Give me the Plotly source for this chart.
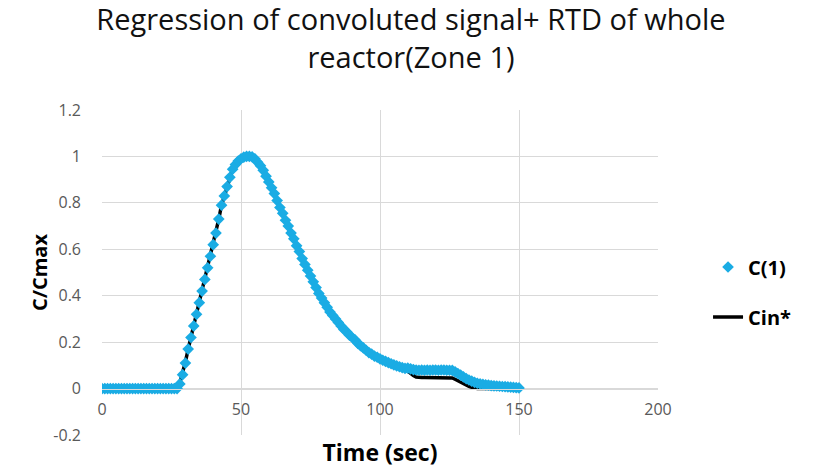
import plotly.graph_objects as go

# Time (sec), one sample per second
time_s = list(range(0, 151))

# C(1): regression signal (C/Cmax)
c1 = [
    0, 0, 0, 0, 0, 0, 0, 0, 0, 0,            # 0-9
    0, 0, 0, 0, 0, 0, 0, 0, 0, 0,            # 10-19
    0, 0, 0, 0, 0, 0, 0, 0.0, 0.02, 0.06,    # 20-29
    0.11, 0.17, 0.22, 0.27, 0.32, 0.37, 0.42, 0.47, 0.52, 0.57,  # 30-39
    0.62, 0.67, 0.73, 0.79, 0.83, 0.87, 0.91, 0.945, 0.965, 0.98,  # 40-49
    0.99, 0.997, 1.0, 1.0, 0.998, 0.99, 0.975, 0.96, 0.94, 0.915,  # 50-59
    0.89, 0.865, 0.84, 0.81, 0.78, 0.755, 0.725, 0.70, 0.67, 0.645,  # 60-69
    0.615, 0.59, 0.56, 0.535, 0.51, 0.485, 0.46, 0.435, 0.41, 0.39,  # 70-79
    0.37, 0.35, 0.33, 0.315, 0.30, 0.285, 0.27, 0.255, 0.245, 0.23,  # 80-89
    0.22, 0.21, 0.195, 0.185, 0.175, 0.165, 0.155, 0.148, 0.14, 0.135,  # 90-99
    0.128, 0.122, 0.117, 0.112, 0.107, 0.102, 0.098, 0.094, 0.09, 0.087,  # 100-109
    0.088, 0.085, 0.082, 0.08, 0.079, 0.08, 0.079, 0.08, 0.079, 0.08,  # 110-119
    0.08, 0.079, 0.08, 0.08, 0.079, 0.079, 0.078, 0.072, 0.065, 0.058,  # 120-129
    0.05, 0.043, 0.037, 0.032, 0.027, 0.023, 0.02, 0.018, 0.016, 0.015,  # 130-139
    0.013, 0.012, 0.011, 0.01, 0.009, 0.008, 0.007, 0.006, 0.005, 0.004,  # 140-149
    0.003,                                                      # 150
]

# Cin*: convoluted input signal (C/Cmax)
cin = [
    0, 0, 0, 0, 0, 0, 0, 0, 0, 0,
    0, 0, 0, 0, 0, 0, 0, 0, 0, 0,
    0, 0, 0, 0, 0, 0, 0, 0.0, 0.025, 0.065,
    0.115, 0.17, 0.22, 0.27, 0.32, 0.37, 0.42, 0.47, 0.52, 0.57,
    0.62, 0.67, 0.73, 0.79, 0.83, 0.87, 0.91, 0.945, 0.965, 0.98,
    0.99, 0.997, 1.0, 1.0, 0.998, 0.99, 0.975, 0.96, 0.94, 0.915,
    0.89, 0.865, 0.84, 0.81, 0.78, 0.755, 0.725, 0.70, 0.67, 0.645,
    0.615, 0.59, 0.56, 0.535, 0.51, 0.485, 0.46, 0.435, 0.41, 0.39,
    0.37, 0.35, 0.33, 0.315, 0.30, 0.285, 0.27, 0.255, 0.245, 0.23,
    0.22, 0.21, 0.195, 0.185, 0.175, 0.165, 0.155, 0.148, 0.14, 0.135,
    0.128, 0.122, 0.117, 0.112, 0.107, 0.102, 0.097, 0.092, 0.087, 0.081,
    0.075, 0.065, 0.056, 0.05, 0.048, 0.048, 0.048, 0.048, 0.048, 0.048,
    0.048, 0.048, 0.048, 0.048, 0.048, 0.047, 0.046, 0.04, 0.033, 0.027,
    0.02, 0.014, 0.009, 0.005, 0.002, 0.0, 0.0, 0.0, 0.0, 0.0,
    0.0, 0.0, 0.0, 0.0, 0.0, 0.0, 0.0, 0.0, 0.0, 0.0,
    0.0,
]

x_ticks = [0, 50, 100, 150, 200]
y_ticks = [-0.2, 0, 0.2, 0.4, 0.6, 0.8, 1.0, 1.2]
y_tick_text = ["-0.2", "0", "0.2", "0.4", "0.6", "0.8", "1", "1.2"]

FONT = "Open Sans"
GRID = "#D9D9D9"
TICKC = "#595959"

fig = go.Figure()
fig.add_trace(go.Scatter(
    x=time_s, y=cin, name="Cin*", mode="lines",
    line=dict(color="black", width=3.5),
    legendrank=2, legendgroup="b",
))
fig.add_trace(go.Scatter(
    x=time_s, y=c1, name="C(1)", mode="markers",
    marker=dict(symbol="diamond", size=9, color="#1AACE4", line=dict(width=0)),
    legendrank=1, legendgroup="a",
))

fig.update_layout(
    width=822, height=476,
    margin=dict(l=102, r=164, t=110, b=41),
    paper_bgcolor="white", plot_bgcolor="white",
    font=dict(family=FONT, color=TICKC),
    title=dict(
        text="Regression of convoluted signal+ RTD of whole<br>reactor(Zone 1)",
        x=0.5, xanchor="center", y=0.936, yanchor="top",
        font=dict(family=FONT, size=29, color="#111111"),
    ),
    legend=dict(
        x=1.09, xanchor="left", y=0.44, yanchor="middle",
        font=dict(family=FONT, size=20, color="black", weight="bold"),
        traceorder="grouped", tracegroupgap=21,
        bgcolor="rgba(0,0,0,0)",
    ),
    xaxis=dict(
        range=[0, 200], tickvals=x_ticks, showgrid=True, gridcolor=GRID, gridwidth=1,
        zeroline=False, showline=True, linecolor=GRID, linewidth=1,
        anchor="free", position=0.2 / 1.4,
        tickfont=dict(family=FONT, size=16, color=TICKC),
        ticks="", ticklabelstandoff=6,
        title=dict(text="Time (sec)", font=dict(family=FONT, size=23, color="black", weight="bold"), standoff=26),
    ),
    yaxis=dict(
        range=[-0.2, 1.2], tickvals=y_ticks, ticktext=y_tick_text,
        showgrid=True, gridcolor=GRID, gridwidth=1, zeroline=False,
        showline=False,
        tickfont=dict(family=FONT, size=16, color=TICKC),
        ticks="", ticklabelstandoff=20,
        title=dict(text="C/Cmax", font=dict(family=FONT, size=20, color="black", weight="bold"), standoff=0),
    ),
)

fig.write_html("out.html")
